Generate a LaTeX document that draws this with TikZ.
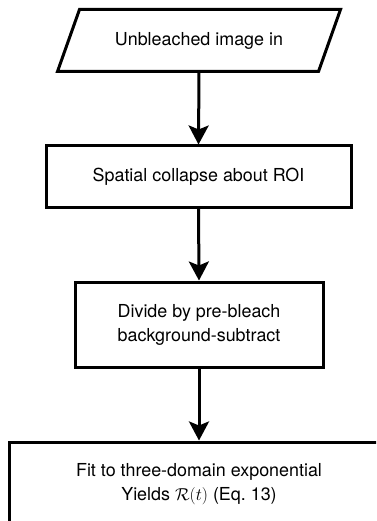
\documentclass[tikz,border=0pt]{standalone}
\usepackage{fontspec}
\setmainfont{TeX Gyre Heros}
\usetikzlibrary{arrows.meta}
\begin{document}
\begin{tikzpicture}[x=1pt,y=-1pt,
  box/.style={draw=black,line width=3pt,align=center,inner sep=0pt,
    font=\fontsize{17.9}{24}\selectfont},
  flow/.style={line width=3pt,-{Stealth[length=19pt,width=20pt,inset=4pt]}}]
\useasboundingbox (0,0) rectangle (376,521);
\clip (0,0) rectangle (376,521);
\fill[white] (0,0) rectangle (376,521);
% input parallelogram
\node[box,draw=none,minimum width=236pt,minimum height=59pt] (in) at (199,40.5) {Unbleached image in};
\draw[line width=3pt,line join=miter]
  (in.north west) -- ([xshift=22pt]in.north east)
  -- (in.south east) -- ([xshift=-22pt]in.south west) -- cycle;
\node[box,minimum width=305pt,minimum height=61pt] (collapse) at (198.5,176.5) {Spatial collapse about ROI};
\node[box,minimum width=248pt,minimum height=85pt] (divide) at (199,324.5) {Divide by pre-bleach\\background-subtract};
\node[box,minimum width=380pt,minimum height=85pt] (fit) at (199,484.5) {Fit to three-domain exponential\\Yields $\mathcal{R}(t)$ (Eq.~13)};
\draw[flow] (in.south) -- (collapse.north);
\draw[flow] (collapse.south) -- (divide.north);
\draw[flow] (divide.south) -- (fit.north);
\end{tikzpicture}
\end{document}
